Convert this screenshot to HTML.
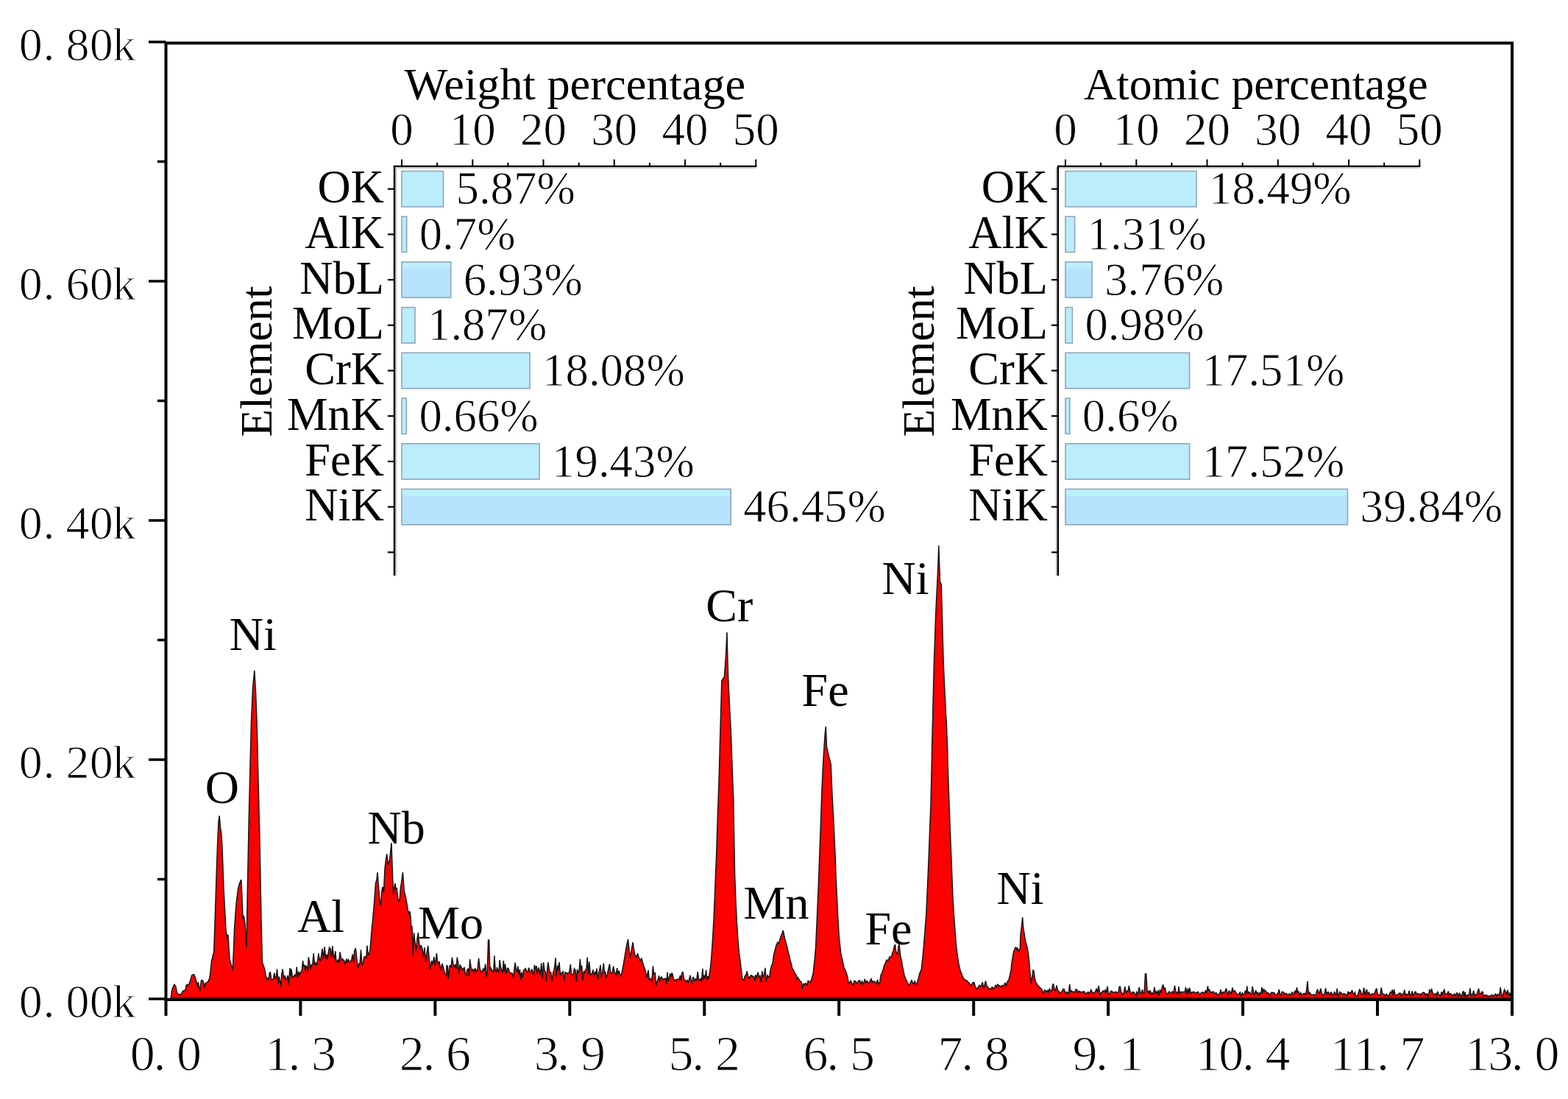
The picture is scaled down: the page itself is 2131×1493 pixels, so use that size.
<!DOCTYPE html>
<html><head><meta charset="utf-8"><title>EDS spectrum</title>
<style>
html,body{margin:0;padding:0;background:#fff;width:2131px;height:1493px;overflow:hidden;}
svg{display:block;}
text{font-family:"Liberation Serif", "Times New Roman", serif;fill:#000;}
.thin{stroke:#fff;stroke-width:1.1px;}
.thin2{stroke:#fff;stroke-width:0.8px;}
</style></head>
<body>
<svg width="2131" height="1493" viewBox="0 0 2131 1493">
<defs><linearGradient id="gb" x1="0" y1="0" x2="0" y2="1"><stop offset="0" stop-color="#bcefFD"/><stop offset="0.17" stop-color="#bcefFD"/><stop offset="0.2" stop-color="#b5e3fb"/><stop offset="1" stop-color="#b5e3fb"/></linearGradient></defs>
<rect x="0" y="0" width="2131" height="1493" fill="#fff"/>
<path d="M231,1358 L232.5,1355.0 L233.3,1347.0 L235.0,1341.0 L237.0,1337.4 L238.7,1339.5 L240.8,1349.8 L243.7,1351.1 L246.2,1351.1 L248.3,1346.5 L252.0,1344.9 L253.2,1338.2 L256.6,1337.4 L258.2,1333.6 L260.7,1324.9 L263.6,1323.7 L265.7,1329.1 L267.4,1335.3 L268.2,1340.7 L269.4,1334.1 L271.5,1346.9 L273.6,1331.6 L276.1,1332.8 L277.7,1341.5 L279.0,1335.7 L282.3,1334.1 L284.8,1329.1 L286.0,1320.0 L287.5,1306.0 L290.7,1293.0 L292.5,1240.0 L294.0,1192.0 L295.5,1150.0 L297.0,1116.0 L298.2,1108.0 L299.5,1125.0 L300.5,1130.0 L301.5,1142.0 L302.5,1165.0 L304.0,1208.0 L305.5,1235.0 L307.0,1264.0 L309.0,1275.0 L310.0,1270.0 L312.0,1303.0 L314.0,1310.0 L316.3,1318.0 L317.5,1290.0 L318.6,1261.0 L321.0,1228.0 L323.5,1208.0 L325.5,1200.0 L327.8,1195.0 L329.0,1220.0 L330.0,1247.0 L331.5,1245.0 L333.0,1255.0 L335.0,1287.0 L336.5,1200.0 L338.3,1110.0 L340.0,1040.0 L341.6,978.0 L343.5,935.0 L345.8,911.0 L347.5,940.0 L349.0,978.0 L351.0,1060.0 L353.0,1143.0 L355.0,1250.0 L356.4,1307.0 L358.0,1312.0 L359.6,1316.0 L361.0,1325.0 L363.0,1330.0 L364.0,1329.2 L365.0,1331.2 L366.3,1322.3 L367.3,1320.4 L368.8,1330.7 L370.4,1330.5 L371.6,1329.8 L372.8,1321.5 L374.0,1329.4 L375.3,1327.0 L376.7,1316.5 L377.9,1336.1 L379.2,1326.6 L380.4,1332.6 L381.7,1340.8 L382.7,1324.4 L384.2,1316.5 L385.7,1329.8 L387.2,1325.3 L388.5,1330.6 L390.0,1329.4 L391.1,1325.3 L392.5,1337.6 L393.9,1315.1 L395.0,1326.5 L396.0,1316.3 L397.6,1328.0 L399.1,1326.6 L400.6,1324.2 L402.1,1326.8 L403.2,1313.5 L404.6,1328.7 L405.8,1319.9 L407.2,1324.2 L408.6,1320.6 L410.1,1319.5 L411.6,1305.1 L412.6,1312.8 L413.7,1310.6 L414.8,1318.9 L415.8,1311.5 L417.0,1313.7 L418.1,1320.6 L419.3,1300.4 L420.6,1306.8 L422.1,1317.4 L423.2,1310.8 L424.8,1310.0 L426.2,1295.1 L427.5,1310.6 L428.7,1307.9 L430.2,1310.8 L431.7,1304.5 L432.9,1295.4 L434.1,1302.5 L435.4,1306.2 L437.0,1296.0 L438.1,1288.7 L439.6,1303.2 L441.1,1286.1 L442.7,1302.2 L443.8,1296.6 L445.0,1303.3 L446.2,1294.4 L447.6,1287.3 L449.1,1289.1 L450.7,1301.1 L451.8,1285.0 L453.2,1296.9 L454.7,1302.5 L455.8,1292.0 L457.0,1306.5 L458.1,1306.7 L459.4,1303.5 L460.7,1307.9 L462.0,1293.2 L463.1,1299.5 L464.5,1305.6 L465.7,1302.2 L466.8,1305.4 L467.9,1305.1 L469.3,1310.7 L470.8,1302.7 L472.1,1307.7 L473.4,1303.4 L474.8,1306.0 L476.4,1306.6 L477.9,1303.3 L479.2,1296.3 L480.6,1308.2 L481.7,1291.7 L483.3,1288.1 L484.5,1299.4 L485.6,1308.5 L486.9,1315.4 L488.0,1309.0 L489.2,1309.1 L490.5,1290.3 L492.0,1310.5 L493.5,1308.7 L494.7,1300.2 L496.3,1299.8 L497.7,1301.9 L498.9,1284.5 L500.3,1297.9 L501.4,1295.1 L502.6,1292.6 L503.0,1290.0 L505.0,1265.0 L506.5,1250.0 L508.5,1227.0 L510.5,1200.0 L512.0,1195.0 L513.0,1185.0 L514.5,1205.0 L516.0,1222.0 L517.5,1230.0 L519.0,1210.0 L520.0,1205.0 L521.5,1212.0 L523.0,1180.0 L524.5,1168.0 L525.7,1160.0 L527.5,1175.0 L529.3,1169.0 L530.5,1160.0 L532.0,1145.0 L533.5,1190.0 L534.7,1216.0 L536.0,1205.0 L537.0,1200.0 L538.0,1208.0 L539.2,1207.0 L541.0,1222.0 L542.9,1225.0 L544.5,1205.0 L545.5,1200.0 L547.4,1185.0 L548.5,1200.0 L549.5,1212.0 L551.0,1217.0 L553.0,1228.0 L554.0,1235.0 L555.5,1241.0 L557.0,1238.0 L558.0,1245.0 L559.0,1263.0 L560.0,1258.0 L561.2,1298.0 L562.5,1267.0 L564.0,1280.0 L565.5,1292.0 L567.0,1275.0 L568.4,1267.0 L569.5,1280.0 L570.6,1290.0 L572.0,1284.0 L574.0,1289.0 L575.5,1300.0 L577.0,1287.0 L578.5,1307.0 L580.0,1295.0 L581.7,1285.0 L583.0,1300.0 L584.6,1317.0 L586.5,1305.0 L588.0,1310.0 L590.0,1300.0 L591.5,1312.0 L593.4,1295.0 L595.0,1310.0 L597.0,1306.0 L599.0,1318.0 L601.0,1309.0 L603.0,1316.0 L604.5,1322.0 L606.7,1326.0 L607.0,1311.7 L608.1,1312.5 L609.3,1329.9 L610.5,1316.1 L611.5,1311.1 L613.0,1314.6 L614.5,1300.6 L615.8,1309.4 L617.1,1314.0 L618.7,1310.0 L620.1,1316.4 L621.3,1300.5 L622.4,1306.6 L623.9,1323.1 L625.1,1311.1 L626.2,1312.4 L627.8,1315.8 L628.9,1317.9 L629.9,1315.5 L631.2,1314.6 L632.2,1322.5 L633.4,1324.6 L634.8,1318.1 L636.2,1315.6 L637.5,1326.3 L638.6,1303.1 L640.1,1314.3 L641.5,1318.8 L642.8,1316.8 L644.3,1320.0 L645.7,1315.1 L646.9,1319.8 L647.9,1318.7 L649.3,1315.8 L650.6,1301.7 L652.0,1315.1 L653.1,1318.5 L654.2,1320.5 L655.3,1319.6 L656.9,1316.0 L658.3,1318.8 L659.7,1309.5 L661.1,1326.9 L662.2,1320.9 L663.6,1277.0 L664.0,1277.0 L664.7,1277.0 L665.8,1318.6 L666.9,1314.8 L668.4,1318.1 L669.7,1318.8 L670.8,1321.0 L671.9,1298.2 L673.2,1318.2 L674.6,1319.9 L675.6,1314.2 L676.9,1318.8 L678.1,1320.8 L679.1,1304.1 L680.5,1314.1 L681.7,1317.5 L683.1,1321.5 L684.3,1305.0 L685.5,1320.4 L686.6,1309.5 L688.2,1322.9 L689.7,1315.5 L691.0,1315.3 L692.1,1319.4 L693.4,1322.1 L695.0,1322.0 L696.2,1322.1 L697.8,1328.6 L699.0,1316.4 L700.1,1307.6 L701.7,1318.2 L702.8,1320.5 L703.9,1312.6 L705.2,1323.6 L706.5,1317.1 L707.7,1331.4 L708.8,1321.0 L710.1,1328.2 L711.4,1318.7 L712.9,1317.1 L714.4,1315.7 L715.7,1320.2 L717.2,1320.3 L718.7,1314.8 L720.0,1320.0 L721.6,1319.7 L722.9,1316.5 L723.9,1320.8 L725.3,1324.4 L726.4,1310.9 L727.8,1317.2 L729.0,1312.1 L730.3,1324.2 L731.7,1314.4 L733.2,1318.5 L734.4,1323.8 L735.7,1308.4 L737.2,1328.7 L738.6,1307.4 L740.1,1318.8 L741.3,1320.6 L742.4,1333.2 L743.7,1317.1 L744.9,1307.4 L746.1,1315.0 L747.2,1321.7 L748.7,1321.1 L750.1,1333.5 L751.7,1320.8 L752.7,1319.5 L753.9,1312.6 L755.1,1301.2 L756.2,1326.5 L757.7,1311.5 L758.9,1318.3 L760.0,1307.0 L761.5,1325.4 L762.6,1322.0 L763.7,1321.3 L765.2,1319.9 L766.6,1333.0 L767.8,1321.1 L769.4,1321.3 L770.9,1323.1 L772.5,1321.5 L773.7,1321.1 L775.3,1310.1 L776.7,1323.3 L777.9,1324.5 L779.4,1322.8 L780.5,1315.8 L781.9,1317.7 L783.5,1333.7 L784.5,1317.0 L785.7,1321.3 L787.0,1319.2 L788.4,1302.9 L789.6,1318.9 L790.7,1311.8 L791.8,1331.8 L793.4,1319.0 L794.6,1322.8 L795.6,1317.7 L797.1,1315.8 L798.2,1300.6 L799.5,1323.9 L800.8,1306.6 L802.4,1324.4 L803.5,1323.8 L804.6,1322.1 L806.0,1317.4 L807.2,1327.2 L808.7,1320.0 L809.7,1323.8 L811.1,1315.6 L812.5,1331.4 L813.7,1322.8 L814.9,1316.9 L816.1,1311.1 L817.2,1327.6 L818.7,1321.9 L820.3,1308.6 L821.6,1322.1 L822.7,1319.8 L823.8,1328.6 L825.3,1324.2 L826.9,1316.5 L828.5,1309.7 L829.7,1321.3 L831.1,1322.6 L832.2,1320.4 L833.7,1312.7 L835.0,1320.3 L836.1,1322.0 L837.1,1326.3 L838.6,1315.0 L839.9,1323.2 L841.1,1318.8 L842.5,1323.7 L843.8,1325.8 L844.9,1322.6 L847.0,1312.0 L849.0,1300.0 L851.0,1288.0 L853.5,1276.0 L855.0,1290.0 L856.5,1302.0 L858.0,1292.0 L860.0,1280.0 L861.5,1290.0 L863.0,1298.0 L865.0,1300.0 L866.5,1295.0 L868.0,1300.0 L870.0,1305.0 L872.0,1302.0 L874.0,1310.0 L877.0,1318.0 L879.0,1328.7 L880.1,1322.3 L881.1,1318.1 L882.2,1330.9 L883.6,1329.3 L884.9,1329.9 L885.9,1334.6 L887.4,1312.4 L888.7,1324.2 L890.3,1321.2 L891.7,1338.8 L892.8,1333.9 L894.4,1330.4 L895.6,1325.4 L896.7,1333.1 L897.8,1328.7 L898.8,1326.9 L900.4,1329.4 L901.7,1330.8 L903.1,1329.3 L904.6,1329.4 L905.8,1336.7 L907.0,1320.9 L908.2,1333.3 L909.8,1327.2 L910.8,1322.3 L912.2,1327.6 L913.2,1321.5 L914.3,1324.6 L915.4,1330.0 L916.7,1330.9 L917.8,1333.0 L919.0,1330.6 L920.5,1330.8 L921.7,1330.0 L923.1,1330.3 L924.5,1325.1 L925.6,1331.8 L926.6,1322.4 L928.1,1320.7 L929.7,1330.9 L931.0,1331.1 L932.5,1334.1 L934.0,1331.7 L935.4,1334.2 L936.7,1330.2 L938.0,1324.9 L939.2,1331.0 L940.6,1337.2 L941.8,1327.1 L943.2,1329.7 L944.3,1333.1 L945.3,1329.9 L946.9,1331.6 L948.1,1320.1 L949.4,1328.7 L950.8,1332.5 L952.3,1329.7 L953.5,1333.4 L954.9,1315.8 L956.0,1331.0 L957.2,1325.0 L958.2,1328.9 L959.7,1317.9 L960.9,1331.7 L961.9,1326.3 L963.0,1330.0 L965.0,1318.0 L966.5,1305.0 L968.0,1284.0 L970.0,1250.0 L971.5,1215.0 L973.7,1160.0 L975.5,1105.0 L977.3,1053.0 L979.0,990.0 L980.9,925.0 L982.5,922.0 L984.4,920.0 L985.5,905.0 L986.5,890.0 L988.0,859.0 L989.0,900.0 L989.7,921.0 L991.5,960.0 L993.3,993.0 L995.0,1040.0 L996.8,1088.0 L997.7,1140.0 L998.6,1188.0 L1000.0,1225.0 L1001.5,1255.0 L1003.0,1278.0 L1004.5,1295.0 L1006.0,1305.0 L1007.0,1315.0 L1009.0,1330.0 L1011.0,1331.4 L1012.1,1326.6 L1013.9,1324.3 L1015.2,1319.4 L1016.9,1327.5 L1018.0,1328.9 L1019.4,1326.6 L1021.2,1324.9 L1023.0,1326.6 L1024.5,1326.6 L1025.8,1332.7 L1027.0,1324.4 L1028.2,1328.5 L1030.1,1320.6 L1031.6,1327.4 L1033.0,1325.7 L1034.3,1334.5 L1035.8,1319.2 L1037.0,1327.8 L1038.6,1323.7 L1040.0,1314.9 L1041.1,1333.9 L1042.9,1324.9 L1044.2,1327.0 L1045.7,1327.1 L1047.0,1318.0 L1048.5,1312.0 L1050.0,1309.0 L1051.5,1298.0 L1053.0,1292.0 L1055.0,1284.0 L1057.0,1280.0 L1058.5,1282.0 L1060.0,1276.0 L1062.0,1270.0 L1063.0,1268.0 L1064.3,1264.0 L1065.5,1270.0 L1066.5,1275.0 L1068.0,1280.0 L1069.5,1286.0 L1071.4,1294.0 L1073.0,1300.0 L1074.0,1305.0 L1075.5,1310.0 L1076.8,1316.0 L1078.5,1318.0 L1080.0,1322.0 L1082.0,1324.3 L1083.2,1331.0 L1084.5,1327.8 L1086.2,1331.2 L1088.0,1333.4 L1089.2,1334.1 L1090.5,1343.5 L1091.8,1336.5 L1093.1,1337.1 L1094.8,1335.8 L1096.6,1338.3 L1098.3,1332.4 L1099.5,1333.6 L1100.9,1334.2 L1102.6,1331.4 L1105.0,1323.0 L1107.0,1305.0 L1108.6,1287.0 L1110.5,1245.0 L1112.5,1198.0 L1115.0,1130.0 L1117.0,1073.0 L1118.5,1040.0 L1119.4,1025.0 L1121.0,1000.0 L1122.3,987.0 L1123.5,1015.0 L1125.0,1021.0 L1127.0,1030.0 L1129.2,1038.0 L1131.0,1080.0 L1133.4,1125.0 L1135.0,1160.0 L1136.0,1190.0 L1137.5,1220.0 L1138.6,1244.0 L1140.5,1275.0 L1142.9,1296.0 L1145.0,1305.0 L1147.0,1315.0 L1149.0,1318.0 L1151.5,1326.0 L1153.0,1333.8 L1154.4,1335.3 L1156.3,1332.4 L1157.7,1336.2 L1159.4,1337.8 L1161.1,1332.4 L1162.8,1333.2 L1163.9,1335.5 L1165.7,1334.3 L1167.1,1332.0 L1168.7,1332.2 L1169.9,1336.8 L1171.7,1333.0 L1172.8,1336.6 L1174.0,1336.0 L1175.2,1329.9 L1176.7,1334.5 L1178.5,1332.4 L1179.9,1336.4 L1181.3,1334.5 L1182.5,1332.7 L1184.0,1329.7 L1185.4,1334.3 L1186.7,1333.1 L1188.5,1333.5 L1189.9,1334.7 L1191.2,1335.7 L1192.6,1331.0 L1193.9,1337.0 L1195.7,1334.5 L1197.0,1325.0 L1198.5,1322.0 L1200.0,1318.0 L1201.5,1312.0 L1203.0,1309.0 L1205.0,1304.0 L1207.0,1305.0 L1209.0,1300.0 L1211.5,1300.0 L1213.0,1294.0 L1214.0,1292.0 L1215.5,1285.0 L1216.6,1283.0 L1217.5,1292.0 L1218.5,1295.0 L1220.0,1296.0 L1221.0,1286.0 L1222.0,1283.0 L1223.0,1292.0 L1224.0,1300.0 L1225.5,1306.0 L1226.5,1313.0 L1228.0,1320.0 L1229.0,1325.0 L1231.0,1330.0 L1233.0,1334.0 L1235.0,1338.1 L1236.4,1337.0 L1237.7,1334.1 L1238.9,1331.7 L1240.3,1335.0 L1241.7,1336.4 L1243.3,1332.5 L1244.5,1337.9 L1246.3,1335.2 L1248.0,1330.0 L1250.0,1322.0 L1252.2,1317.0 L1253.5,1305.0 L1255.0,1290.0 L1257.0,1265.0 L1258.7,1244.0 L1260.5,1205.0 L1262.0,1170.0 L1263.5,1130.0 L1265.0,1094.0 L1266.0,1050.0 L1267.0,1000.0 L1268.2,950.0 L1269.4,901.0 L1270.5,870.0 L1271.5,840.0 L1272.6,815.0 L1273.7,794.0 L1274.8,770.0 L1275.8,741.0 L1276.8,770.0 L1277.5,790.0 L1279.2,794.0 L1280.0,820.0 L1280.8,850.0 L1281.5,875.0 L1282.2,901.0 L1283.5,930.0 L1284.5,950.0 L1285.5,970.0 L1286.5,987.0 L1287.5,1015.0 L1288.5,1050.0 L1289.7,1085.0 L1290.8,1116.0 L1292.0,1145.0 L1293.0,1170.0 L1294.0,1195.0 L1295.1,1223.0 L1296.5,1245.0 L1298.0,1265.0 L1299.5,1285.0 L1301.5,1300.0 L1303.0,1310.0 L1305.0,1318.0 L1307.5,1325.0 L1310.0,1330.0 L1315.0,1333.0 L1320.0,1339.0 L1322.0,1335.0 L1323.9,1334.6 L1325.1,1339.2 L1326.5,1342.4 L1327.8,1343.4 L1329.3,1341.1 L1331.1,1338.4 L1332.3,1340.2 L1333.8,1339.1 L1335.3,1334.1 L1336.5,1342.5 L1337.7,1339.4 L1339.5,1332.6 L1341.0,1339.4 L1342.4,1340.8 L1344.2,1344.0 L1345.3,1343.0 L1347.0,1343.0 L1348.5,1340.8 L1350.3,1343.6 L1351.7,1341.4 L1353.1,1338.6 L1354.4,1340.7 L1355.8,1337.2 L1357.6,1338.8 L1359.1,1339.3 L1360.7,1341.2 L1362.0,1338.5 L1363.7,1340.0 L1364.8,1338.0 L1365.9,1335.0 L1367.0,1339.5 L1369.0,1334.0 L1371.3,1330.0 L1372.5,1325.0 L1374.0,1318.0 L1375.0,1308.0 L1376.0,1302.0 L1377.0,1296.0 L1378.0,1292.0 L1379.5,1288.0 L1380.7,1287.0 L1382.0,1290.0 L1383.0,1288.0 L1384.5,1292.0 L1386.3,1289.0 L1387.0,1270.0 L1388.0,1262.0 L1389.7,1246.0 L1390.5,1258.0 L1391.0,1262.0 L1392.0,1268.0 L1393.0,1275.0 L1394.0,1280.0 L1395.5,1285.0 L1396.7,1291.0 L1398.0,1300.0 L1399.0,1310.0 L1400.2,1325.0 L1401.4,1336.0 L1402.2,1330.0 L1403.0,1325.0 L1404.0,1318.0 L1405.0,1319.0 L1406.5,1330.0 L1408.0,1335.0 L1410.0,1338.0 L1412.6,1341.0 L1416.0,1344.0 L1418.0,1350.5 L1419.6,1345.3 L1421.1,1345.5 L1422.6,1347.6 L1424.1,1345.3 L1425.2,1347.6 L1426.4,1343.5 L1428.0,1345.9 L1429.3,1346.6 L1430.6,1338.3 L1431.6,1336.3 L1433.0,1343.4 L1434.4,1346.3 L1436.1,1338.6 L1437.2,1344.3 L1438.2,1346.8 L1439.3,1346.4 L1440.4,1349.8 L1441.9,1348.6 L1443.5,1346.5 L1444.5,1344.0 L1446.0,1343.5 L1447.7,1348.2 L1448.7,1349.6 L1449.8,1347.5 L1451.3,1348.9 L1452.3,1350.1 L1453.7,1337.2 L1455.0,1348.2 L1456.4,1345.9 L1458.1,1348.1 L1459.5,1347.2 L1461.0,1347.9 L1462.2,1343.8 L1463.6,1344.6 L1464.9,1348.6 L1466.3,1346.3 L1467.9,1347.4 L1469.2,1347.5 L1470.8,1347.8 L1472.3,1347.1 L1473.7,1347.0 L1475.2,1350.6 L1476.4,1349.3 L1477.6,1348.5 L1479.2,1347.7 L1480.6,1349.7 L1481.7,1347.5 L1482.8,1344.6 L1484.3,1347.8 L1486.0,1349.7 L1487.3,1348.0 L1488.8,1347.0 L1490.2,1342.7 L1491.9,1348.7 L1493.0,1339.1 L1494.2,1345.4 L1495.2,1352.5 L1496.6,1348.7 L1497.7,1347.9 L1499.3,1345.9 L1500.9,1347.6 L1502.1,1344.8 L1503.5,1348.9 L1505.1,1339.8 L1506.4,1350.7 L1507.8,1350.6 L1509.4,1346.9 L1510.6,1346.3 L1512.3,1347.8 L1513.5,1348.2 L1515.1,1348.0 L1516.6,1347.3 L1518.3,1348.7 L1520.0,1348.1 L1521.2,1340.5 L1522.4,1340.4 L1523.5,1347.9 L1524.5,1348.8 L1525.6,1351.5 L1527.3,1348.7 L1528.9,1340.4 L1530.5,1349.3 L1531.8,1346.3 L1533.2,1346.2 L1534.3,1339.2 L1535.5,1345.9 L1536.6,1347.5 L1537.7,1351.1 L1538.9,1348.6 L1540.0,1347.5 L1541.4,1348.4 L1542.6,1349.8 L1543.9,1353.8 L1544.9,1347.7 L1546.6,1350.5 L1548.2,1341.1 L1549.5,1348.1 L1550.9,1350.0 L1552.5,1344.4 L1554.0,1350.2 L1555.2,1348.7 L1556.5,1323.0 L1557.0,1323.0 L1557.7,1323.0 L1559.1,1346.4 L1560.1,1347.9 L1561.2,1346.4 L1562.4,1349.9 L1563.4,1345.4 L1564.7,1351.7 L1566.0,1349.0 L1567.4,1350.2 L1568.8,1341.0 L1570.3,1349.2 L1571.6,1347.1 L1572.7,1351.1 L1574.0,1345.3 L1575.4,1352.5 L1576.5,1344.3 L1578.1,1349.0 L1579.2,1341.8 L1580.6,1337.5 L1582.1,1344.2 L1583.5,1341.5 L1584.6,1348.3 L1586.2,1349.6 L1587.3,1350.1 L1588.9,1347.0 L1590.3,1349.5 L1592.0,1348.6 L1593.2,1346.9 L1594.9,1349.6 L1596.5,1338.9 L1598.2,1349.6 L1599.6,1347.9 L1601.0,1350.0 L1602.0,1340.4 L1603.5,1350.6 L1605.1,1347.6 L1606.2,1347.7 L1607.4,1347.5 L1609.0,1347.6 L1610.3,1347.6 L1611.5,1341.1 L1613.2,1350.8 L1614.4,1342.8 L1615.5,1349.0 L1616.7,1342.0 L1618.3,1349.8 L1619.7,1347.9 L1621.1,1347.7 L1622.5,1347.2 L1623.6,1348.9 L1624.9,1348.4 L1626.5,1348.5 L1627.9,1347.3 L1629.1,1348.7 L1630.2,1351.7 L1631.3,1350.0 L1632.6,1348.6 L1634.2,1347.9 L1635.4,1347.9 L1636.8,1350.0 L1638.4,1346.0 L1639.9,1348.4 L1641.4,1339.6 L1642.4,1345.2 L1643.9,1344.5 L1645.1,1348.8 L1646.8,1347.5 L1648.1,1347.8 L1649.3,1347.2 L1650.5,1350.2 L1652.1,1348.7 L1653.2,1348.9 L1654.6,1352.0 L1656.2,1350.8 L1657.9,1349.4 L1658.9,1344.2 L1660.2,1351.4 L1661.9,1347.6 L1663.3,1348.3 L1664.7,1347.4 L1666.4,1342.8 L1667.6,1347.2 L1669.1,1352.1 L1670.4,1346.1 L1672.1,1347.9 L1673.2,1350.7 L1674.9,1341.6 L1676.3,1347.3 L1678.0,1345.6 L1679.4,1347.9 L1680.5,1350.0 L1681.8,1351.2 L1683.2,1350.7 L1684.4,1349.5 L1685.4,1348.0 L1686.9,1354.1 L1688.3,1348.9 L1690.0,1351.5 L1691.3,1349.8 L1692.4,1345.8 L1693.7,1350.2 L1694.8,1339.5 L1696.0,1350.4 L1697.1,1347.7 L1698.5,1348.2 L1699.5,1350.7 L1700.9,1350.9 L1702.1,1340.2 L1703.7,1347.9 L1704.9,1352.5 L1706.6,1345.2 L1707.8,1349.4 L1709.0,1348.1 L1710.6,1352.4 L1711.7,1348.6 L1712.9,1350.1 L1714.0,1347.7 L1715.0,1341.0 L1716.2,1349.4 L1717.4,1343.4 L1718.7,1346.2 L1720.2,1345.9 L1721.8,1349.7 L1723.3,1348.5 L1725.0,1350.5 L1726.2,1353.3 L1727.2,1349.1 L1728.7,1348.2 L1729.8,1348.6 L1730.9,1348.7 L1732.3,1349.1 L1733.8,1352.3 L1735.0,1351.7 L1736.2,1350.0 L1737.3,1348.1 L1738.5,1344.1 L1739.6,1351.4 L1740.9,1351.4 L1742.5,1347.3 L1743.5,1347.4 L1745.0,1348.6 L1746.4,1351.0 L1748.0,1349.4 L1749.7,1351.5 L1751.2,1351.5 L1752.4,1349.8 L1753.4,1351.4 L1754.8,1351.8 L1756.0,1347.4 L1757.0,1350.7 L1758.5,1349.6 L1760.0,1345.7 L1761.0,1350.0 L1762.6,1341.4 L1763.8,1349.7 L1764.9,1346.6 L1766.2,1352.0 L1767.8,1348.7 L1769.1,1352.2 L1770.5,1350.6 L1771.5,1349.8 L1773.1,1349.3 L1774.5,1352.1 L1775.7,1344.2 L1777.0,1333.0 L1777.0,1333.0 L1778.4,1351.2 L1779.6,1348.1 L1780.8,1349.7 L1782.5,1351.2 L1784.0,1351.5 L1785.6,1351.1 L1786.9,1352.0 L1788.5,1350.9 L1789.6,1346.1 L1790.7,1344.4 L1792.1,1348.2 L1793.2,1350.2 L1794.7,1342.8 L1796.4,1349.3 L1797.7,1351.8 L1798.7,1352.1 L1800.4,1348.9 L1801.5,1342.4 L1803.1,1350.9 L1804.3,1348.0 L1805.4,1347.6 L1807.0,1352.6 L1808.2,1348.6 L1809.6,1348.0 L1810.6,1352.4 L1812.0,1351.2 L1813.7,1347.8 L1815.1,1350.9 L1816.1,1351.3 L1817.2,1342.8 L1818.5,1354.1 L1819.5,1351.9 L1820.8,1347.4 L1822.3,1348.5 L1823.6,1350.0 L1825.2,1351.0 L1826.5,1349.7 L1827.7,1350.5 L1829.1,1350.9 L1830.7,1353.2 L1832.1,1346.9 L1833.2,1349.3 L1834.6,1348.3 L1835.9,1349.5 L1837.5,1345.1 L1839.0,1349.7 L1840.3,1350.6 L1841.5,1348.2 L1842.6,1352.7 L1844.0,1352.9 L1845.1,1352.5 L1846.3,1348.3 L1847.7,1344.4 L1849.1,1346.2 L1850.7,1351.2 L1852.2,1350.5 L1853.7,1341.6 L1855.0,1352.4 L1856.5,1346.5 L1857.5,1344.0 L1858.7,1352.1 L1860.2,1347.4 L1861.8,1352.0 L1863.4,1351.2 L1864.7,1349.8 L1866.1,1350.9 L1867.7,1349.8 L1869.2,1346.4 L1870.7,1342.6 L1872.2,1350.5 L1873.8,1351.7 L1874.9,1351.4 L1876.0,1350.7 L1877.2,1341.7 L1878.6,1349.1 L1880.1,1350.9 L1881.3,1350.6 L1882.9,1353.4 L1884.3,1350.3 L1885.7,1352.4 L1887.3,1353.4 L1888.3,1350.2 L1889.7,1347.7 L1891.0,1348.6 L1892.2,1344.7 L1893.5,1352.6 L1894.5,1344.0 L1895.7,1350.5 L1897.1,1352.7 L1898.8,1351.2 L1900.3,1350.8 L1901.9,1349.2 L1903.1,1349.1 L1904.7,1353.1 L1906.2,1349.9 L1907.6,1349.8 L1908.8,1344.7 L1910.1,1352.8 L1911.2,1350.7 L1912.5,1351.0 L1913.8,1351.1 L1915.2,1345.8 L1916.4,1351.9 L1917.8,1352.3 L1919.2,1346.3 L1920.6,1352.5 L1921.9,1350.8 L1923.0,1347.5 L1924.1,1347.3 L1925.3,1350.7 L1926.5,1349.9 L1928.1,1350.4 L1929.7,1350.2 L1930.8,1352.3 L1931.9,1350.0 L1933.5,1348.7 L1934.7,1348.2 L1936.2,1349.0 L1937.2,1352.5 L1938.3,1350.1 L1939.7,1350.0 L1941.0,1354.9 L1942.7,1344.8 L1944.2,1346.9 L1945.7,1343.9 L1947.0,1349.0 L1948.5,1350.6 L1949.7,1351.1 L1951.3,1349.9 L1952.5,1351.9 L1953.7,1346.7 L1955.3,1351.4 L1956.8,1351.4 L1958.0,1352.4 L1959.1,1347.4 L1960.2,1352.0 L1961.4,1347.2 L1962.9,1344.5 L1964.1,1350.8 L1965.4,1350.3 L1966.8,1350.2 L1968.4,1346.6 L1969.7,1353.0 L1970.7,1349.8 L1972.4,1350.7 L1973.5,1351.4 L1974.7,1352.7 L1976.2,1350.5 L1977.4,1350.3 L1978.5,1353.6 L1980.0,1348.9 L1981.2,1350.5 L1982.3,1353.1 L1983.7,1349.4 L1984.9,1352.1 L1986.1,1354.8 L1987.8,1348.3 L1988.9,1346.4 L1990.0,1354.4 L1991.0,1347.7 L1992.7,1353.7 L1994.3,1352.0 L1995.8,1351.5 L1996.9,1350.4 L1997.9,1342.6 L1999.2,1352.2 L2000.3,1351.0 L2001.4,1351.2 L2002.7,1345.6 L2004.1,1352.9 L2005.8,1350.9 L2007.3,1351.5 L2008.3,1346.6 L2009.6,1343.1 L2011.1,1351.1 L2012.5,1350.0 L2014.0,1347.3 L2015.2,1347.8 L2016.4,1353.9 L2017.5,1351.9 L2019.2,1351.7 L2020.6,1352.1 L2022.2,1352.6 L2023.9,1354.2 L2025.3,1352.6 L2026.5,1351.9 L2028.1,1351.8 L2029.5,1353.0 L2031.1,1351.8 L2032.6,1350.3 L2034.0,1353.1 L2035.5,1350.7 L2036.7,1351.6 L2038.0,1351.5 L2039.1,1341.4 L2040.5,1349.9 L2041.7,1354.3 L2043.0,1350.0 L2044.6,1344.3 L2046.2,1347.8 L2047.3,1351.2 L2048.8,1344.8 L2050.5,1351.7 L2051.8,1349.1 L2052.9,1352.4 L2053.0,1352.0 L2053,1358 Z" fill="#ff0000" stroke="#141414" stroke-width="1.5" stroke-linejoin="miter" stroke-miterlimit="3"/>
<line x1="231" y1="1355.1" x2="2053" y2="1355.1" stroke="#b00000" stroke-width="1.7"/>
<rect x="225.5" y="58.5" width="1829.5" height="1299.5" fill="none" stroke="#000" stroke-width="4"/>
<line x1="202" y1="1357" x2="225.5" y2="1357" stroke="#000" stroke-width="3.5"/>
<line x1="214" y1="1194.5" x2="225.5" y2="1194.5" stroke="#000" stroke-width="3.5"/>
<text class="thin" x="41.7 66.5 105.5 137.8 168.8" y="1381.5" text-anchor="middle" font-size="64">0.00k</text>
<line x1="202" y1="1032" x2="225.5" y2="1032" stroke="#000" stroke-width="3.5"/>
<line x1="214" y1="869.5" x2="225.5" y2="869.5" stroke="#000" stroke-width="3.5"/>
<text class="thin" x="41.7 66.5 105.5 137.8 168.8" y="1056.5" text-anchor="middle" font-size="64">0.20k</text>
<line x1="202" y1="707" x2="225.5" y2="707" stroke="#000" stroke-width="3.5"/>
<line x1="214" y1="544.5" x2="225.5" y2="544.5" stroke="#000" stroke-width="3.5"/>
<text class="thin" x="41.7 66.5 105.5 137.8 168.8" y="731.5" text-anchor="middle" font-size="64">0.40k</text>
<line x1="202" y1="382" x2="225.5" y2="382" stroke="#000" stroke-width="3.5"/>
<line x1="214" y1="219.5" x2="225.5" y2="219.5" stroke="#000" stroke-width="3.5"/>
<text class="thin" x="41.7 66.5 105.5 137.8 168.8" y="406.5" text-anchor="middle" font-size="64">0.60k</text>
<line x1="202" y1="57" x2="225.5" y2="57" stroke="#000" stroke-width="3.5"/>
<text class="thin" x="41.7 66.5 105.5 137.8 168.8" y="81.5" text-anchor="middle" font-size="64">0.80k</text>
<line x1="225.5" y1="1358" x2="225.5" y2="1380" stroke="#000" stroke-width="4"/>
<text class="thin" x="193.8 217.0 257.1" y="1453.5" text-anchor="middle" font-size="68">0.0</text>
<line x1="408.4" y1="1358" x2="408.4" y2="1380" stroke="#000" stroke-width="4"/>
<text class="thin" x="376.8 400.0 440.1" y="1453.5" text-anchor="middle" font-size="68">1.3</text>
<line x1="591.4" y1="1358" x2="591.4" y2="1380" stroke="#000" stroke-width="4"/>
<text class="thin" x="559.8 582.9 623.0" y="1453.5" text-anchor="middle" font-size="68">2.6</text>
<line x1="774.3" y1="1358" x2="774.3" y2="1380" stroke="#000" stroke-width="4"/>
<text class="thin" x="742.7 765.8 806.0" y="1453.5" text-anchor="middle" font-size="68">3.9</text>
<line x1="957.3" y1="1358" x2="957.3" y2="1380" stroke="#000" stroke-width="4"/>
<text class="thin" x="925.6 948.8 988.9" y="1453.5" text-anchor="middle" font-size="68">5.2</text>
<line x1="1140.2" y1="1358" x2="1140.2" y2="1380" stroke="#000" stroke-width="4"/>
<text class="thin" x="1108.6 1131.8 1171.9" y="1453.5" text-anchor="middle" font-size="68">6.5</text>
<line x1="1323.2" y1="1358" x2="1323.2" y2="1380" stroke="#000" stroke-width="4"/>
<text class="thin" x="1291.5 1314.7 1354.8" y="1453.5" text-anchor="middle" font-size="68">7.8</text>
<line x1="1506.1" y1="1358" x2="1506.1" y2="1380" stroke="#000" stroke-width="4"/>
<text class="thin" x="1474.5 1497.6 1537.8" y="1453.5" text-anchor="middle" font-size="68">9.1</text>
<line x1="1689.1" y1="1358" x2="1689.1" y2="1380" stroke="#000" stroke-width="4"/>
<text class="thin" x="1641.6 1673.3 1696.4 1736.6" y="1453.5" text-anchor="middle" font-size="68">10.4</text>
<line x1="1872.0" y1="1358" x2="1872.0" y2="1380" stroke="#000" stroke-width="4"/>
<text class="thin" x="1824.6 1856.2 1879.4 1919.5" y="1453.5" text-anchor="middle" font-size="68">11.7</text>
<line x1="2055.0" y1="1358" x2="2055.0" y2="1380" stroke="#000" stroke-width="4"/>
<text class="thin" x="2007.5 2039.2 2062.3 2102.5" y="1453.5" text-anchor="middle" font-size="68">13.0</text>
<text x="278.8" y="1091" font-size="64">O</text>
<text x="311.8" y="883" font-size="64">Ni</text>
<text x="404.0" y="1265.5" font-size="64">Al</text>
<text x="499.6" y="1146" font-size="64">Nb</text>
<text x="568" y="1274.5" font-size="64">Mo</text>
<text x="959.2" y="844" font-size="64">Cr</text>
<text x="1010.6" y="1248" font-size="64">Mn</text>
<text x="1089.6" y="959" font-size="64">Fe</text>
<text x="1175.4" y="1283" font-size="64">Fe</text>
<text x="1198.6" y="807" font-size="64">Ni</text>
<text x="1354.6" y="1228" font-size="64">Ni</text>
<line x1="537.9" y1="226.9" x2="537.9" y2="782" stroke="#aaa" stroke-width="1.8"/>
<line x1="535.9" y1="228.1" x2="1027.35" y2="228.1" stroke="#c8c8c8" stroke-width="1.8"/>
<line x1="535.9" y1="224.9" x2="535.9" y2="782" stroke="#000" stroke-width="2.2"/>
<line x1="534.8" y1="225.9" x2="1028.35" y2="225.9" stroke="#000" stroke-width="2.2"/>
<line x1="546.0" y1="225.9" x2="546.0" y2="216.5" stroke="#000" stroke-width="2"/>
<text class="thin2" x="546.0" y="197.3" text-anchor="middle" font-size="63">0</text>
<line x1="642.3" y1="225.9" x2="642.3" y2="216.5" stroke="#000" stroke-width="2"/>
<text class="thin2" x="642.3" y="197.3" text-anchor="middle" font-size="63">10</text>
<line x1="738.5" y1="225.9" x2="738.5" y2="216.5" stroke="#000" stroke-width="2"/>
<text class="thin2" x="738.5" y="197.3" text-anchor="middle" font-size="63">20</text>
<line x1="834.8" y1="225.9" x2="834.8" y2="216.5" stroke="#000" stroke-width="2"/>
<text class="thin2" x="834.8" y="197.3" text-anchor="middle" font-size="63">30</text>
<line x1="931.1" y1="225.9" x2="931.1" y2="216.5" stroke="#000" stroke-width="2"/>
<text class="thin2" x="931.1" y="197.3" text-anchor="middle" font-size="63">40</text>
<line x1="1027.3" y1="225.9" x2="1027.3" y2="216.5" stroke="#000" stroke-width="2"/>
<text class="thin2" x="1027.3" y="197.3" text-anchor="middle" font-size="63">50</text>
<line x1="594.1" y1="225.9" x2="594.1" y2="221" stroke="#000" stroke-width="2"/>
<line x1="690.4" y1="225.9" x2="690.4" y2="221" stroke="#000" stroke-width="2"/>
<line x1="786.7" y1="225.9" x2="786.7" y2="221" stroke="#000" stroke-width="2"/>
<line x1="882.9" y1="225.9" x2="882.9" y2="221" stroke="#000" stroke-width="2"/>
<line x1="979.2" y1="225.9" x2="979.2" y2="221" stroke="#000" stroke-width="2"/>
<text x="549.5" y="134.5" font-size="62.3">Weight percentage</text>
<line x1="526.9" y1="256.7" x2="535.9" y2="256.7" stroke="#000" stroke-width="2.2"/>
<line x1="526.9" y1="318.4" x2="535.9" y2="318.4" stroke="#000" stroke-width="2.2"/>
<line x1="526.9" y1="380.1" x2="535.9" y2="380.1" stroke="#000" stroke-width="2.2"/>
<line x1="526.9" y1="441.8" x2="535.9" y2="441.8" stroke="#000" stroke-width="2.2"/>
<line x1="526.9" y1="503.5" x2="535.9" y2="503.5" stroke="#000" stroke-width="2.2"/>
<line x1="526.9" y1="565.2" x2="535.9" y2="565.2" stroke="#000" stroke-width="2.2"/>
<line x1="526.9" y1="626.9" x2="535.9" y2="626.9" stroke="#000" stroke-width="2.2"/>
<line x1="526.9" y1="688.6" x2="535.9" y2="688.6" stroke="#000" stroke-width="2.2"/>
<line x1="526.9" y1="750.3" x2="535.9" y2="750.3" stroke="#000" stroke-width="2.2"/>
<rect x="546.0" y="232.5" width="56.5" height="48.4" fill="#bbedfc" stroke="#8fa6b8" stroke-width="1.6"/>
<text x="521.9" y="275.3" text-anchor="end" font-size="62.5">OK</text>
<text class="thin2" x="619.5" y="277.3" font-size="62.8">5.87%</text>
<rect x="546.0" y="294.2" width="6.7" height="48.4" fill="#bbedfc" stroke="#8fa6b8" stroke-width="1.6"/>
<text x="521.9" y="337.0" text-anchor="end" font-size="62.5">AlK</text>
<text class="thin2" x="569.7" y="339.0" font-size="62.8">0.7%</text>
<rect x="546.0" y="355.9" width="66.7" height="48.4" fill="url(#gb)" stroke="#8fa6b8" stroke-width="1.6"/>
<text x="521.9" y="398.7" text-anchor="end" font-size="62.5">NbL</text>
<text class="thin2" x="629.7" y="400.7" font-size="62.8">6.93%</text>
<rect x="546.0" y="417.6" width="18.0" height="48.4" fill="#bbedfc" stroke="#8fa6b8" stroke-width="1.6"/>
<text x="521.9" y="460.4" text-anchor="end" font-size="62.5">MoL</text>
<text class="thin2" x="581.0" y="462.4" font-size="62.8">1.87%</text>
<rect x="546.0" y="479.3" width="174.1" height="48.4" fill="#bbedfc" stroke="#8fa6b8" stroke-width="1.6"/>
<text x="521.9" y="522.1" text-anchor="end" font-size="62.5">CrK</text>
<text class="thin2" x="737.1" y="524.1" font-size="62.8">18.08%</text>
<rect x="546.0" y="541.0" width="6.4" height="48.4" fill="#bbedfc" stroke="#8fa6b8" stroke-width="1.6"/>
<text x="521.9" y="583.8" text-anchor="end" font-size="62.5">MnK</text>
<text class="thin2" x="569.4" y="585.8" font-size="62.8">0.66%</text>
<rect x="546.0" y="602.7" width="187.1" height="48.4" fill="#bbedfc" stroke="#8fa6b8" stroke-width="1.6"/>
<text x="521.9" y="645.5" text-anchor="end" font-size="62.5">FeK</text>
<text class="thin2" x="750.1" y="647.5" font-size="62.8">19.43%</text>
<rect x="546.0" y="664.4" width="447.2" height="48.4" fill="url(#gb)" stroke="#8fa6b8" stroke-width="1.6"/>
<text x="521.9" y="707.2" text-anchor="end" font-size="62.5">NiK</text>
<text class="thin2" x="1010.2" y="709.2" font-size="62.8">46.45%</text>
<text transform="translate(369,491) rotate(-90)" text-anchor="middle" font-size="61.5">Element</text>
<line x1="1436" y1="226.9" x2="1436" y2="782" stroke="#aaa" stroke-width="1.8"/>
<line x1="1438" y1="228.1" x2="1929.35" y2="228.1" stroke="#c8c8c8" stroke-width="1.8"/>
<line x1="1438" y1="224.9" x2="1438" y2="782" stroke="#000" stroke-width="2.2"/>
<line x1="1436.9" y1="225.9" x2="1930.35" y2="225.9" stroke="#000" stroke-width="2.2"/>
<line x1="1448.0" y1="225.9" x2="1448.0" y2="216.5" stroke="#000" stroke-width="2"/>
<text class="thin2" x="1448.0" y="197.3" text-anchor="middle" font-size="63">0</text>
<line x1="1544.3" y1="225.9" x2="1544.3" y2="216.5" stroke="#000" stroke-width="2"/>
<text class="thin2" x="1544.3" y="197.3" text-anchor="middle" font-size="63">10</text>
<line x1="1640.5" y1="225.9" x2="1640.5" y2="216.5" stroke="#000" stroke-width="2"/>
<text class="thin2" x="1640.5" y="197.3" text-anchor="middle" font-size="63">20</text>
<line x1="1736.8" y1="225.9" x2="1736.8" y2="216.5" stroke="#000" stroke-width="2"/>
<text class="thin2" x="1736.8" y="197.3" text-anchor="middle" font-size="63">30</text>
<line x1="1833.1" y1="225.9" x2="1833.1" y2="216.5" stroke="#000" stroke-width="2"/>
<text class="thin2" x="1833.1" y="197.3" text-anchor="middle" font-size="63">40</text>
<line x1="1929.3" y1="225.9" x2="1929.3" y2="216.5" stroke="#000" stroke-width="2"/>
<text class="thin2" x="1929.3" y="197.3" text-anchor="middle" font-size="63">50</text>
<line x1="1496.1" y1="225.9" x2="1496.1" y2="221" stroke="#000" stroke-width="2"/>
<line x1="1592.4" y1="225.9" x2="1592.4" y2="221" stroke="#000" stroke-width="2"/>
<line x1="1688.7" y1="225.9" x2="1688.7" y2="221" stroke="#000" stroke-width="2"/>
<line x1="1784.9" y1="225.9" x2="1784.9" y2="221" stroke="#000" stroke-width="2"/>
<line x1="1881.2" y1="225.9" x2="1881.2" y2="221" stroke="#000" stroke-width="2"/>
<text x="1473" y="134.5" font-size="61.7">Atomic percentage</text>
<line x1="1429" y1="256.7" x2="1438" y2="256.7" stroke="#000" stroke-width="2.2"/>
<line x1="1429" y1="318.4" x2="1438" y2="318.4" stroke="#000" stroke-width="2.2"/>
<line x1="1429" y1="380.1" x2="1438" y2="380.1" stroke="#000" stroke-width="2.2"/>
<line x1="1429" y1="441.8" x2="1438" y2="441.8" stroke="#000" stroke-width="2.2"/>
<line x1="1429" y1="503.5" x2="1438" y2="503.5" stroke="#000" stroke-width="2.2"/>
<line x1="1429" y1="565.2" x2="1438" y2="565.2" stroke="#000" stroke-width="2.2"/>
<line x1="1429" y1="626.9" x2="1438" y2="626.9" stroke="#000" stroke-width="2.2"/>
<line x1="1429" y1="688.6" x2="1438" y2="688.6" stroke="#000" stroke-width="2.2"/>
<line x1="1429" y1="750.3" x2="1438" y2="750.3" stroke="#000" stroke-width="2.2"/>
<rect x="1448.0" y="232.5" width="178.0" height="48.4" fill="#bbedfc" stroke="#8fa6b8" stroke-width="1.6"/>
<text x="1424" y="275.3" text-anchor="end" font-size="62.5">OK</text>
<text class="thin2" x="1643.0" y="277.3" font-size="62.8">18.49%</text>
<rect x="1448.0" y="294.2" width="12.6" height="48.4" fill="#bbedfc" stroke="#8fa6b8" stroke-width="1.6"/>
<text x="1424" y="337.0" text-anchor="end" font-size="62.5">AlK</text>
<text class="thin2" x="1477.6" y="339.0" font-size="62.8">1.31%</text>
<rect x="1448.0" y="355.9" width="36.2" height="48.4" fill="url(#gb)" stroke="#8fa6b8" stroke-width="1.6"/>
<text x="1424" y="398.7" text-anchor="end" font-size="62.5">NbL</text>
<text class="thin2" x="1501.2" y="400.7" font-size="62.8">3.76%</text>
<rect x="1448.0" y="417.6" width="9.4" height="48.4" fill="#bbedfc" stroke="#8fa6b8" stroke-width="1.6"/>
<text x="1424" y="460.4" text-anchor="end" font-size="62.5">MoL</text>
<text class="thin2" x="1474.4" y="462.4" font-size="62.8">0.98%</text>
<rect x="1448.0" y="479.3" width="168.6" height="48.4" fill="#bbedfc" stroke="#8fa6b8" stroke-width="1.6"/>
<text x="1424" y="522.1" text-anchor="end" font-size="62.5">CrK</text>
<text class="thin2" x="1633.6" y="524.1" font-size="62.8">17.51%</text>
<rect x="1448.0" y="541.0" width="5.8" height="48.4" fill="#bbedfc" stroke="#8fa6b8" stroke-width="1.6"/>
<text x="1424" y="583.8" text-anchor="end" font-size="62.5">MnK</text>
<text class="thin2" x="1470.8" y="585.8" font-size="62.8">0.6%</text>
<rect x="1448.0" y="602.7" width="168.7" height="48.4" fill="#bbedfc" stroke="#8fa6b8" stroke-width="1.6"/>
<text x="1424" y="645.5" text-anchor="end" font-size="62.5">FeK</text>
<text class="thin2" x="1633.7" y="647.5" font-size="62.8">17.52%</text>
<rect x="1448.0" y="664.4" width="383.5" height="48.4" fill="url(#gb)" stroke="#8fa6b8" stroke-width="1.6"/>
<text x="1424" y="707.2" text-anchor="end" font-size="62.5">NiK</text>
<text class="thin2" x="1848.5" y="709.2" font-size="62.8">39.84%</text>
<text transform="translate(1269,491) rotate(-90)" text-anchor="middle" font-size="61.5">Element</text>
</svg>
</body></html>
